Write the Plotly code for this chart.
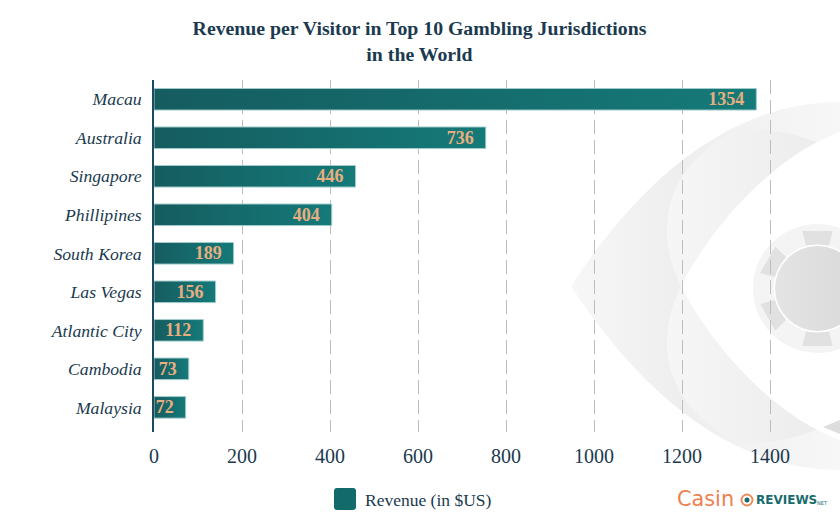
import base64
import plotly.graph_objects as go

categories = ["Macau", "Australia", "Singapore", "Phillipines", "South Korea",
              "Las Vegas", "Atlantic City", "Cambodia", "Malaysia"]
# Printed labels, and bar lengths as drawn in the reference (they differ slightly there)
labels = [1354, 736, 446, 404, 189, 156, 112, 73, 72]
bar_lengths = [1369, 754, 458, 404, 181, 140, 112, 79, 72]
tick_values = [0, 200, 400, 600, 800, 1000, 1200, 1400]
series_name = "Revenue (in $US)"

NAVY = "#1b3a4f"
SERIF = "Liberation Serif"
W, H = 840, 530
L, R, T, B = 154, 40, 80, 98
PW, PH = W - L - R, H - T - B
X_MAX = PW / 0.44


def px(x):
    return (x - L) / PW


def py(y):
    return 1 - (y - T) / PH


chips = "".join(
    f'<path transform="rotate({a} 817.5 288.5)" d="M802.3,231 L832.7,231 L829,245.5 L806,245.5 Z" fill="#e1e1e1"/>'
    for a in (0, 60, 120, 180, 240, 300)
)
svg = f'''<svg xmlns="http://www.w3.org/2000/svg" width="840" height="530" viewBox="0 0 840 530">
<defs>
<linearGradient id="o" x1="0" x2="1" y1="0" y2="0"><stop offset="0" stop-color="#f7f7f7"/><stop offset="0.4" stop-color="#eeeeee"/><stop offset="1" stop-color="#f7f7f7"/></linearGradient>
<linearGradient id="l" x1="0" x2="1" y1="0" y2="0"><stop offset="0" stop-color="#f6f6f6"/><stop offset="1" stop-color="#ececec"/></linearGradient>
<linearGradient id="c" x1="0" x2="1" y1="0" y2="0"><stop offset="0" stop-color="#e4e4e4"/><stop offset="1" stop-color="#d9d9d9"/></linearGradient>
</defs>
<path d="M571,286 C640,180 730,102 840,102 L840,470 C730,470 640,392 571,286 Z" fill="url(#o)"/>
<path d="M681,286 C655,235 660,170 735,131 C765,125 800,135 823,145 L823,286 Z" fill="url(#l)"/>
<path d="M681,286 C655,337 660,402 735,441 C765,447 800,437 823,427 L823,286 Z" fill="url(#l)"/>
<path d="M681,286 C712,225 775,155 840,132 L840,440 C775,417 712,347 681,286 Z" fill="#ffffff"/>
<path d="M823,427 L840,420 L840,434 Z" fill="#dddddd"/>
<circle cx="817.5" cy="288.5" r="64.5" fill="#f4f4f4"/>
{chips}
<circle cx="817.5" cy="288.5" r="44" fill="#ffffff"/>
<circle cx="817.5" cy="288.5" r="42.5" fill="url(#c)"/>
<circle cx="747" cy="500" r="5.5" fill="none" stroke="#ee8a5c" stroke-width="2"/>
<circle cx="747" cy="500" r="2.5" fill="#176c6c"/>
</svg>'''
uri = "data:image/svg+xml;base64," + base64.b64encode(svg.encode()).decode()

fig = go.Figure(go.Bar(
    x=bar_lengths,
    y=categories,
    orientation="h",
    name=series_name,
    showlegend=True,
    text=[f"{v}\u00a0\u00a0" for v in labels],
    textposition="inside",
    insidetextanchor="end",
    constraintext="none",
    cliponaxis=False,
    textangle=0,
    textfont=dict(family=SERIF, size=18, color="#e9ae80", weight="bold"),
    marker=dict(color="#126a6a", line=dict(color="#a3cbcb", width=1)),
))

fig.update_layout(
    width=W, height=H,
    margin=dict(l=L, r=R, t=T, b=B, pad=0),
    paper_bgcolor="#ffffff",
    plot_bgcolor="rgba(0,0,0,0)",
    bargap=0.44,
    title=dict(
        text="Revenue per Visitor in Top 10 Gambling Jurisdictions<br>in the World",
        x=419.5 / W, xanchor="center", xref="container",
        y=1 - 35 / H, yanchor="top",
        font=dict(family=SERIF, size=19.8, color=NAVY, weight="bold"),
    ),
    xaxis=dict(
        range=[0, X_MAX], tickvals=tick_values, showgrid=True,
        gridcolor="#bdbdbd", griddash="14px,6px", gridwidth=1, zeroline=False,
        showline=False, ticks="", ticklabelstandoff=10,
        tickfont=dict(family=SERIF, size=20, color=NAVY),
    ),
    yaxis=dict(
        categoryorder="array", categoryarray=categories,
        range=[8.64, -0.5], showgrid=False, zeroline=False,
        showline=True, linecolor="#1d4a5e", linewidth=1.5,
        ticks="", ticklabelstandoff=7,
        tickfont=dict(family=SERIF, size=17.7, color=NAVY, style="italic"),
    ),
    legend=dict(
        x=px(325), y=py(499), xanchor="left", yanchor="middle",
        orientation="h", bgcolor="rgba(0,0,0,0)", itemclick=False,
        font=dict(family=SERIF, size=17.5, color=NAVY),
    ),
    images=[dict(
        source=uri, xref="paper", yref="paper",
        x=px(0), y=py(0), sizex=W / PW, sizey=H / PH,
        xanchor="left", yanchor="top", sizing="stretch", layer="below",
    )],
    annotations=[
        dict(text="Casin", x=px(675), y=py(499), xref="paper", yref="paper",
             xanchor="left", yanchor="middle", showarrow=False,
             font=dict(family="DejaVu Sans", size=20.8, color="#ee8050")),
        dict(text="REVIEWS", x=px(754), y=py(500), xref="paper", yref="paper",
             xanchor="left", yanchor="middle", showarrow=False,
             font=dict(family="DejaVu Sans", size=12, color="#176c6c", weight="bold")),
        dict(text="NET", x=px(815), y=py(503), xref="paper", yref="paper",
             xanchor="left", yanchor="middle", showarrow=False,
             font=dict(family="DejaVu Sans", size=5, color="#176c6c")),
    ],
)

post = """
document.documentElement.style.margin = '0';
document.body.style.margin = '0';
document.body.style.overflow = 'hidden';
var gd = document.getElementById('{plot_id}');
function paint() {
  var svg = gd.querySelector('svg.main-svg');
  var ns = 'http://www.w3.org/2000/svg';
  if (!document.getElementById('barGrad')) {
    var defs = document.createElementNS(ns, 'defs');
    var g = document.createElementNS(ns, 'linearGradient');
    g.setAttribute('id', 'barGrad');
    [['0', '#155c5f'], ['1', '#157a79']].forEach(function (s) {
      var st = document.createElementNS(ns, 'stop');
      st.setAttribute('offset', s[0]); st.setAttribute('stop-color', s[1]);
      g.appendChild(st);
    });
    defs.appendChild(g); svg.insertBefore(defs, svg.firstChild);
  }
  gd.querySelectorAll('.trace.bars .point path').forEach(function (p) {
    p.style.fill = 'url(#barGrad)';
  });
  gd.querySelectorAll('.legendpoints path').forEach(function (p) {
    p.setAttribute('d', 'M8,-11H-8Q-11,-11 -11,-8V8Q-11,11 -8,11H8Q11,11 11,8V-8Q11,-11 8,-11Z');
    p.style.strokeWidth = '0';
  });
}
paint();
requestAnimationFrame(paint);
"""

fig.write_html("out.html", post_script=post, config={"displayModeBar": False})
